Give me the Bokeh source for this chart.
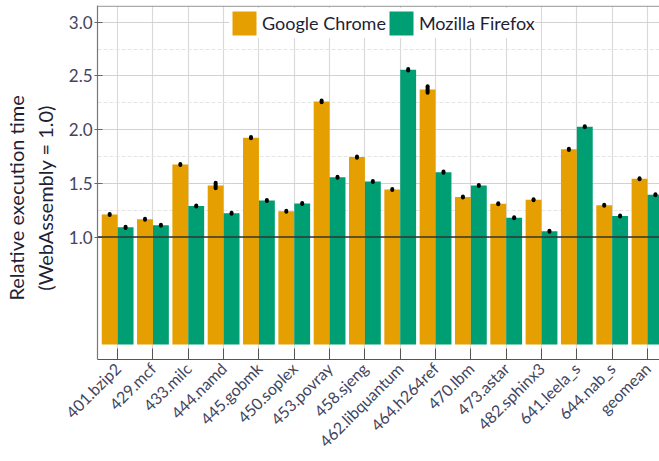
from bokeh.plotting import figure
from bokeh.models import (Range1d, FixedTicker, Span, Legend, LegendItem,
                          ColumnDataSource, NumeralTickFormatter)
from bokeh.embed import file_html
from bokeh.resources import INLINE
import math

benchmarks = ["401.bzip2", "429.mcf", "433.milc", "444.namd", "445.gobmk",
              "450.soplex", "453.povray", "458.sjeng", "462.libquantum",
              "464.h264ref", "470.lbm", "473.astar", "482.sphinx3",
              "641.leela_s", "644.nab_s", "geomean"]
chrome = [1.21, 1.165, 1.675, 1.48, 1.925, 1.24, 2.262, 1.744, 1.443, 2.374,
          1.372, 1.31, 1.347, 1.816, 1.295, 1.543]
firefox = [1.09, 1.11, 1.288, 1.222, 1.34, 1.312, 1.556, 1.517, 2.557, 1.604,
           1.48, 1.18, 1.053, 2.027, 1.195, 1.394]
chrome_err = [0.005, 0.005, 0.005, 0.025, 0.005, 0.005, 0.008, 0.005, 0.005,
              0.03, 0.005, 0.005, 0.005, 0.005, 0.005, 0.005]
firefox_err = [0.005, 0.005, 0.005, 0.005, 0.005, 0.005, 0.005, 0.005, 0.006,
               0.005, 0.005, 0.005, 0.005, 0.005, 0.005, 0.005]
y_ticks = [1.0, 1.5, 2.0, 2.5, 3.0]
y_minor = [1.25, 1.75, 2.25, 2.75]

ORANGE = "#E69F00"
GREEN = "#009E73"
FONT = "Lato"
TICK_COLOR = "#3f4560"
LABEL_COLOR = "#1e1e36"

n = len(benchmarks)
xs = list(range(n))
bw = 0.45
off = 0.225

src_c = ColumnDataSource(dict(x=[i - off for i in xs], top=chrome,
                              lo=[v - e for v, e in zip(chrome, chrome_err)],
                              hi=[v + e for v, e in zip(chrome, chrome_err)]))
src_f = ColumnDataSource(dict(x=[i + off for i in xs], top=firefox,
                              lo=[v - e for v, e in zip(firefox, firefox_err)],
                              hi=[v + e for v, e in zip(firefox, firefox_err)]))

p = figure(width=659, height=461, output_backend="svg", toolbar_location=None,
           x_range=Range1d(-0.57, 15.34), y_range=Range1d(-0.14, 3.155),
           min_border_left=96, min_border_right=0, min_border_top=5,
           min_border_bottom=102)
p.background_fill_color = "white"
p.border_fill_color = "white"
p.outline_line_color = None

# grids
p.xgrid.ticker = FixedTicker(ticks=xs)
p.xgrid.grid_line_color = "#dadada"
p.xgrid.grid_line_width = 1.2
p.ygrid.ticker = FixedTicker(ticks=y_ticks, minor_ticks=y_minor)
p.ygrid.grid_line_color = "#d2d2d2"
p.ygrid.grid_line_width = 1.2
p.ygrid.minor_grid_line_color = "#e4e4e4"
p.ygrid.minor_grid_line_dash = "4 2"

r_c = p.vbar(x="x", top="top", bottom=0, width=bw, source=src_c,
             fill_color=ORANGE, line_color=None)
r_f = p.vbar(x="x", top="top", bottom=0, width=bw, source=src_f,
             fill_color=GREEN, line_color=None)

p.segment(x0="x", y0="lo", x1="x", y1="hi", source=src_c, line_color="black",
          line_width=4, line_cap="round")
p.segment(x0="x", y0="lo", x1="x", y1="hi", source=src_f, line_color="black",
          line_width=4, line_cap="round")

p.add_layout(Span(location=1.0, dimension="width", line_color="#333333",
                  line_width=1.6))
# top border of the frame
p.add_layout(Span(location=3.149, dimension="width", line_color="#aaaaaa",
                  line_width=1.5))

# axes
NB = "\u00a0" * 6
p.yaxis.ticker = FixedTicker(ticks=y_ticks, minor_ticks=[])
p.yaxis.formatter = NumeralTickFormatter(format="0.0")
p.yaxis.axis_label = "Relative execution time" + NB + "\n(WebAssembly = 1.0)" + NB
p.yaxis.axis_label_text_font = FONT
p.yaxis.axis_label_text_font_style = "normal"
p.yaxis.axis_label_text_font_size = "20px"
p.yaxis.axis_label_text_color = LABEL_COLOR
p.yaxis.axis_label_standoff = 9
p.yaxis.major_label_text_font = FONT
p.yaxis.major_label_text_font_size = "17px"
p.yaxis.major_label_text_color = TICK_COLOR
p.yaxis.major_label_standoff = 2
p.yaxis.major_tick_out = 3
p.yaxis.major_tick_in = 5
p.yaxis.major_tick_line_color = "#666666"
p.yaxis.minor_tick_line_color = None
p.yaxis.axis_line_color = "#777777"
p.yaxis.axis_line_width = 1.2

p.xaxis.ticker = FixedTicker(ticks=xs, minor_ticks=[])
p.xaxis.major_label_overrides = {i: b for i, b in enumerate(benchmarks)}
p.xaxis.major_label_orientation = math.pi / 4
p.xaxis.major_label_text_font = FONT
p.xaxis.major_label_text_font_size = "16px"
p.xaxis.major_label_text_color = TICK_COLOR
p.xaxis.major_label_standoff = 6
p.xaxis.major_tick_out = 0
p.xaxis.major_tick_in = 11
p.xaxis.major_tick_line_color = "#555555"
p.xaxis.minor_tick_line_color = None
p.xaxis.axis_line_color = "#555555"
p.xaxis.axis_line_width = 1.2

legend = Legend(items=[LegendItem(label="Google Chrome", renderers=[r_c]),
                       LegendItem(label="Mozilla Firefox", renderers=[r_f])],
                orientation="horizontal", location=(132, 321),
                glyph_width=30, glyph_height=30, label_standoff=3, spacing=0,
                padding=3, margin=0, border_line_color=None,
                background_fill_color="white", background_fill_alpha=1.0,
                label_text_font=FONT, label_text_font_size="18px",
                label_text_color=LABEL_COLOR)
p.add_layout(legend)

open("out.html", "w").write(file_html(p, INLINE))
